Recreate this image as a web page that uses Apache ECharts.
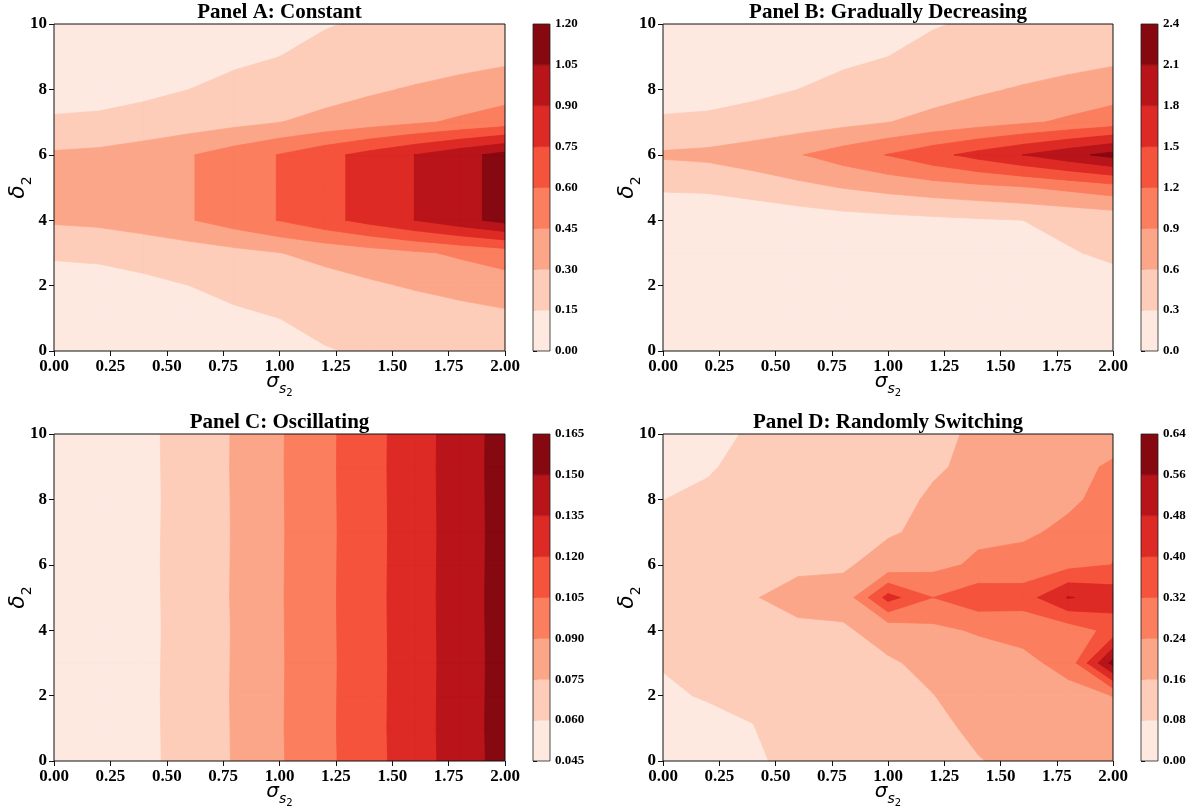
<!DOCTYPE html>
<html>
<head>
<meta charset="utf-8">
<script src="https://cdn.jsdelivr.net/npm/echarts@6/dist/echarts.min.js"></script>
<style>
html,body{margin:0;padding:0;background:#fff;}
#chart{width:1191px;height:807px;}
</style>
</head>
<body>
<div id="chart"></div>
<script>
// ---------------- data ----------------
const SIGMA = [0.0, 0.2, 0.4, 0.6, 0.8, 1.0, 1.2, 1.4, 1.6, 1.8, 2.0];
const DELTA = [0, 1, 2, 3, 4, 5, 6, 7, 8, 9, 10];
const X_TICKS = [0, 0.25, 0.5, 0.75, 1.0, 1.25, 1.5, 1.75, 2.0];
const Y_TICKS = [0, 2, 4, 6, 8, 10];

const LEVELS_A = [0.00, 0.15, 0.30, 0.45, 0.60, 0.75, 0.90, 1.05, 1.20];
const LEVELS_B = [0.0, 0.3, 0.6, 0.9, 1.2, 1.5, 1.8, 2.1, 2.4];
const LEVELS_C = [0.045, 0.060, 0.075, 0.090, 0.105, 0.120, 0.135, 0.150, 0.165];
const LEVELS_D = [0.00, 0.08, 0.16, 0.24, 0.32, 0.40, 0.48, 0.56, 0.64];

const TITLES = ['Panel A: Constant', 'Panel B: Gradually Decreasing', 'Panel C: Oscillating', 'Panel D: Randomly Switching'];

// rows: delta = 0..10, columns: sigma = 0..2
const Z_A = [
  [0.080, 0.084, 0.094, 0.106, 0.117, 0.130, 0.145, 0.160, 0.176, 0.193, 0.210],
  [0.083, 0.086, 0.097, 0.112, 0.130, 0.150, 0.172, 0.194, 0.217, 0.240, 0.264],
  [0.101, 0.107, 0.125, 0.150, 0.179, 0.211, 0.245, 0.279, 0.314, 0.349, 0.385],
  [0.165, 0.172, 0.192, 0.222, 0.257, 0.297, 0.339, 0.382, 0.427, 0.473, 0.520],
  [0.320, 0.336, 0.380, 0.440, 0.520, 0.606, 0.704, 0.802, 0.901, 1.000, 1.100],
  [0.320, 0.336, 0.380, 0.440, 0.520, 0.606, 0.704, 0.802, 0.901, 1.000, 1.100],
  [0.320, 0.336, 0.380, 0.440, 0.520, 0.606, 0.704, 0.802, 0.901, 1.000, 1.100],
  [0.165, 0.172, 0.192, 0.222, 0.257, 0.297, 0.339, 0.382, 0.427, 0.473, 0.520],
  [0.101, 0.107, 0.125, 0.150, 0.179, 0.211, 0.245, 0.279, 0.314, 0.349, 0.385],
  [0.083, 0.086, 0.097, 0.112, 0.130, 0.150, 0.172, 0.194, 0.217, 0.240, 0.264],
  [0.080, 0.084, 0.094, 0.106, 0.117, 0.130, 0.145, 0.160, 0.176, 0.193, 0.210]
];

const Z_B = [
  [0.000, 0.000, 0.005, 0.010, 0.020, 0.030, 0.040, 0.050, 0.060, 0.080, 0.100],
  [0.000, 0.005, 0.010, 0.020, 0.030, 0.040, 0.050, 0.060, 0.070, 0.100, 0.150],
  [0.005, 0.010, 0.020, 0.030, 0.040, 0.050, 0.060, 0.080, 0.100, 0.200, 0.240],
  [0.010, 0.015, 0.030, 0.050, 0.070, 0.090, 0.110, 0.140, 0.200, 0.286, 0.330],
  [0.020, 0.030, 0.080, 0.130, 0.180, 0.210, 0.240, 0.270, 0.300, 0.345, 0.390],
  [0.345, 0.360, 0.430, 0.520, 0.610, 0.690, 0.760, 0.820, 0.880, 0.970, 1.080],
  [0.640, 0.672, 0.760, 0.880, 1.040, 1.212, 1.408, 1.604, 1.802, 2.000, 2.200],
  [0.330, 0.344, 0.384, 0.444, 0.514, 0.594, 0.678, 0.764, 0.854, 0.946, 1.040],
  [0.202, 0.214, 0.250, 0.300, 0.358, 0.422, 0.490, 0.558, 0.628, 0.698, 0.770],
  [0.166, 0.172, 0.194, 0.224, 0.260, 0.300, 0.344, 0.388, 0.434, 0.480, 0.528],
  [0.160, 0.168, 0.188, 0.212, 0.234, 0.260, 0.290, 0.320, 0.352, 0.386, 0.420]
];

const Z_C = [
  [0.0482, 0.0505, 0.0566, 0.0656, 0.0759, 0.0885, 0.1013, 0.1146, 0.1282, 0.1421, 0.1561],
  [0.0483, 0.0506, 0.0567, 0.0657, 0.0760, 0.0887, 0.1015, 0.1148, 0.1284, 0.1423, 0.1563],
  [0.0484, 0.0507, 0.0568, 0.0658, 0.0761, 0.0886, 0.1014, 0.1147, 0.1283, 0.1422, 0.1562],
  [0.0483, 0.0506, 0.0567, 0.0657, 0.0760, 0.0885, 0.1013, 0.1146, 0.1282, 0.1421, 0.1561],
  [0.0482, 0.0505, 0.0566, 0.0656, 0.0759, 0.0886, 0.1014, 0.1147, 0.1283, 0.1422, 0.1562],
  [0.0483, 0.0506, 0.0567, 0.0657, 0.0761, 0.0887, 0.1015, 0.1148, 0.1284, 0.1423, 0.1563],
  [0.0484, 0.0507, 0.0568, 0.0658, 0.0760, 0.0886, 0.1014, 0.1147, 0.1283, 0.1422, 0.1562],
  [0.0483, 0.0506, 0.0567, 0.0657, 0.0759, 0.0885, 0.1013, 0.1146, 0.1282, 0.1421, 0.1561],
  [0.0482, 0.0505, 0.0566, 0.0656, 0.0760, 0.0886, 0.1014, 0.1147, 0.1283, 0.1422, 0.1562],
  [0.0483, 0.0506, 0.0567, 0.0657, 0.0761, 0.0887, 0.1015, 0.1148, 0.1284, 0.1423, 0.1563],
  [0.0484, 0.0507, 0.0568, 0.0658, 0.0760, 0.0886, 0.1014, 0.1147, 0.1283, 0.1422, 0.1562]
];

const Z_D = [
  [0.040, 0.030, 0.060, 0.118, 0.120, 0.125, 0.140, 0.156, 0.183, 0.190, 0.200],
  [0.050, 0.036, 0.078, 0.118, 0.120, 0.120, 0.140, 0.176, 0.190, 0.200, 0.210],
  [0.060, 0.091, 0.0913, 0.110, 0.125, 0.140, 0.159, 0.180, 0.200, 0.220, 0.241],
  [0.088, 0.100, 0.110, 0.120, 0.135, 0.154, 0.173, 0.190, 0.224, 0.260, 0.590],
  [0.110, 0.120, 0.130, 0.141, 0.153, 0.180, 0.219, 0.250, 0.260, 0.275, 0.345],
  [0.130, 0.140, 0.155, 0.190, 0.180, 0.430, 0.320, 0.370, 0.360, 0.485, 0.450],
  [0.120, 0.125, 0.130, 0.143, 0.153, 0.180, 0.216, 0.254, 0.267, 0.295, 0.321],
  [0.100, 0.110, 0.120, 0.130, 0.140, 0.155, 0.171, 0.223, 0.228, 0.255, 0.310],
  [0.079, 0.100, 0.115, 0.120, 0.130, 0.140, 0.168, 0.200, 0.210, 0.228, 0.263],
  [0.060, 0.070, 0.1126, 0.115, 0.120, 0.130, 0.153, 0.173, 0.200, 0.210, 0.253],
  [0.050, 0.060, 0.0886, 0.100, 0.110, 0.125, 0.145, 0.170, 0.190, 0.200, 0.200]
];

// ---------------- styles ----------------
const COLORS = ['#fee9e1', '#fdcdb9', '#fca689', '#fb7e5e', '#f5533b', '#dd2a25', '#b81419', '#860811'];
const SERIF = 'Liberation Serif, Times New Roman, serif';
const MATH = 'DejaVu Sans, sans-serif';

const PANELS = [
  {Z: Z_A, levels: LEVELS_A, dec: 2, grid: {left: 54, top: 24, width: 451, height: 327}, cb: {left: 533, top: 24, width: 17, height: 327}},
  {Z: Z_B, levels: LEVELS_B, dec: 1, grid: {left: 663, top: 24, width: 450, height: 327}, cb: {left: 1141, top: 24, width: 17, height: 327}},
  {Z: Z_C, levels: LEVELS_C, dec: 3, grid: {left: 54, top: 434, width: 451, height: 327}, cb: {left: 533, top: 434, width: 17, height: 327}},
  {Z: Z_D, levels: LEVELS_D, dec: 2, grid: {left: 663, top: 434, width: 450, height: 327}, cb: {left: 1141, top: 434, width: 17, height: 327}}
];

// filled contours: one item per (band, cell); all cells of a band are drawn
// before the next band so higher bands always paint over lower ones
function contourSeries(Z, levels, idx) {
  const items = [];
  for (let k = 0; k < levels.length - 1; k++) {
    for (let j = 0; j < DELTA.length - 1; j++) {
      for (let i = 0; i < SIGMA.length - 1; i++) {
        items.push([SIGMA[i], DELTA[j], i, j, k]);
      }
    }
  }
  return {
    type: 'custom',
    coordinateSystem: 'cartesian2d',
    xAxisIndex: idx, yAxisIndex: idx,
    clip: true, silent: true, animation: false,
    encode: {x: 0, y: 1},
    data: items,
    renderItem: function (params, api) {
      const i = api.value(2), j = api.value(3), k = api.value(4);
      const c = [
        [SIGMA[i], DELTA[j], Z[j][i]],
        [SIGMA[i + 1], DELTA[j], Z[j][i + 1]],
        [SIGMA[i + 1], DELTA[j + 1], Z[j + 1][i + 1]],
        [SIGMA[i], DELTA[j + 1], Z[j + 1][i]]
      ];
      const lo = levels[k];
      const poly = [];
      for (let e = 0; e < 4; e++) {
        const a = c[e], b = c[(e + 1) % 4];
        const ina = k === 0 || a[2] >= lo;
        const inb = k === 0 || b[2] >= lo;
        if (ina) poly.push([a[0], a[1]]);
        if (ina !== inb) {
          const t = (lo - a[2]) / (b[2] - a[2]);
          poly.push([a[0] + t * (b[0] - a[0]), a[1] + t * (b[1] - a[1])]);
        }
      }
      if (poly.length < 3) return {type: 'group', children: []};
      return {
        type: 'polygon',
        shape: {points: poly.map(function (p) { return api.coord(p); })},
        style: {fill: COLORS[k], stroke: COLORS[k], lineWidth: 0.8}
      };
    }
  };
}

function colorbarSeries(levels, idx) {
  return {
    type: 'custom',
    coordinateSystem: 'cartesian2d',
    xAxisIndex: idx, yAxisIndex: idx,
    clip: true, silent: true, animation: false,
    encode: {x: 0, y: 1},
    data: levels.slice(0, -1).map(function (lv, k) { return [0, lv, k]; }),
    renderItem: function (params, api) {
      const k = api.value(2);
      const p0 = api.coord([0, levels[k]]);
      const p1 = api.coord([1, levels[k + 1]]);
      return {
        type: 'rect',
        shape: {x: p0[0], y: p1[1], width: p1[0] - p0[0], height: p0[1] - p1[1]},
        style: {fill: COLORS[k], stroke: COLORS[k], lineWidth: 0.6}
      };
    }
  };
}

const grids = [], xAxes = [], yAxes = [], series = [], titles = [];
const tickFont = {fontFamily: SERIF, fontWeight: 'bold', fontSize: 17, color: '#000'};

PANELS.forEach(function (p, n) {
  grids.push(Object.assign({show: true, z: 10, outerBoundsMode: 'none', containLabel: false,
    backgroundColor: 'transparent', borderColor: '#111', borderWidth: 1}, p.grid));
  xAxes.push({
    gridIndex: n, type: 'value', min: 0, max: 2, interval: 0.25,
    axisLine: {show: false},
    axisTick: {show: true, length: 5, lineStyle: {color: '#111'}, customValues: X_TICKS},
    axisLabel: Object.assign({margin: 7, customValues: X_TICKS, formatter: function (v) { return v.toFixed(2); }}, tickFont),
    splitLine: {show: false},
    name: '{a|σ}{b|s}{c|2}', nameLocation: 'middle', nameGap: 21, nameMoveOverlap: false,
    nameTextStyle: {rich: {
      a: {fontFamily: MATH, fontStyle: 'italic', fontSize: 20, color: '#000', verticalAlign: 'bottom', padding: [0, 0, 6, 0]},
      b: {fontFamily: MATH, fontStyle: 'italic', fontSize: 14, color: '#000', verticalAlign: 'bottom', padding: [0, 0, 2, 0]},
      c: {fontFamily: MATH, fontSize: 10, color: '#000', verticalAlign: 'bottom', padding: [0, 0, 0, 0]}
    }}
  });
  yAxes.push({
    gridIndex: n, type: 'value', min: 0, max: 10, interval: 2,
    axisLine: {show: false},
    axisTick: {show: true, length: 5, lineStyle: {color: '#111'}, customValues: Y_TICKS},
    axisLabel: Object.assign({margin: 7, customValues: Y_TICKS}, tickFont),
    splitLine: {show: false},
    name: '{a|δ}{b|2}', nameLocation: 'middle', nameGap: 20, nameRotate: 90, nameMoveOverlap: false,
    nameTextStyle: {rich: {
      a: {fontFamily: MATH, fontStyle: 'italic', fontSize: 22, color: '#000', verticalAlign: 'bottom', padding: [0, 0, 5, 0]},
      b: {fontFamily: MATH, fontSize: 14, color: '#000', verticalAlign: 'bottom', padding: [0, 0, 0, 0]}
    }}
  });
  series.push(contourSeries(p.Z, p.levels, n));
  titles.push({
    text: TITLES[n], left: p.grid.left + p.grid.width / 2, top: p.grid.top - 22, textAlign: 'center', padding: 0,
    textStyle: {fontFamily: SERIF, fontWeight: 'bold', fontSize: 21, color: '#000'}
  });
});

PANELS.forEach(function (p, n) {
  const idx = 4 + n;
  const lv = p.levels;
  grids.push(Object.assign({show: true, z: 10, outerBoundsMode: 'none', containLabel: false,
    backgroundColor: 'transparent', borderColor: '#222', borderWidth: 0.8}, p.cb));
  xAxes.push({gridIndex: idx, type: 'value', min: 0, max: 1, show: false});
  yAxes.push({
    gridIndex: idx, type: 'value', min: lv[0], max: lv[lv.length - 1], position: 'right',
    interval: lv[1] - lv[0],
    axisLine: {show: false},
    axisTick: {show: true, length: 4, lineStyle: {color: '#111'}, customValues: lv},
    axisLabel: {margin: 5, customValues: lv, fontFamily: SERIF, fontWeight: 'bold', fontSize: 13, color: '#000',
      formatter: function (v) { return v.toFixed(p.dec); }},
    splitLine: {show: false}
  });
  series.push(colorbarSeries(lv, idx));
});

const chart = echarts.init(document.getElementById('chart'), null, {renderer: 'canvas'});
chart.setOption({
  animation: false,
  backgroundColor: '#ffffff',
  title: titles,
  grid: grids,
  xAxis: xAxes,
  yAxis: yAxes,
  series: series
});
</script>
</body>
</html>
